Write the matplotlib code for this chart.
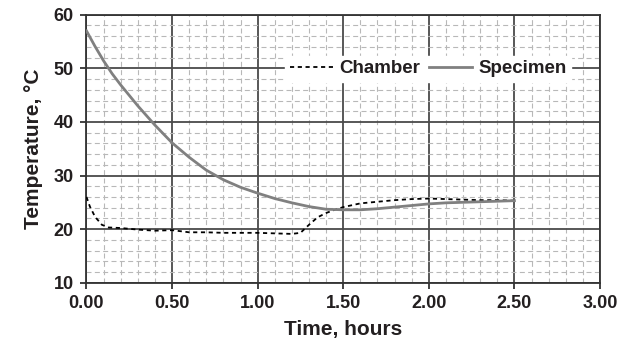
import numpy as np
import matplotlib
matplotlib.use("Agg")
import matplotlib.pyplot as plt
from matplotlib.ticker import MultipleLocator

plt.rcParams['font.family'] = ['Liberation Sans', 'DejaVu Sans']
plt.rcParams['font.weight'] = 'bold'

# ---------- DATA ----------
# specimen temperature (degC) vs time (hours)
t_specimen = [0.00, 0.05, 0.10, 0.15, 0.20, 0.30, 0.40, 0.50, 0.60, 0.70,
              0.80, 0.90, 1.00, 1.10, 1.20, 1.30, 1.40, 1.50, 1.60, 1.70,
              1.80, 1.90, 2.00, 2.10, 2.20, 2.30, 2.40, 2.50]
temp_specimen = [57.0, 54.1, 51.4, 49.0, 46.9, 43.0, 39.4, 36.1, 33.4, 31.0,
                 29.2, 27.8, 26.7, 25.7, 24.9, 24.2, 23.7, 23.6, 23.6, 23.8,
                 24.1, 24.4, 24.7, 24.9, 25.0, 25.1, 25.2, 25.3]

# chamber air temperature (degC) vs time (hours)
t_chamber = [0.00, 0.02, 0.05, 0.09, 0.13, 0.20, 0.30, 0.40, 0.50, 0.60,
             0.70, 0.80, 0.90, 1.00, 1.10, 1.20, 1.25, 1.30, 1.35, 1.40,
             1.45, 1.50, 1.60, 1.70, 1.80, 1.90, 2.00, 2.10, 2.20, 2.30,
             2.40, 2.50]
temp_chamber = [26.0, 24.2, 22.3, 20.8, 20.3, 20.2, 19.9, 19.7, 19.8, 19.4,
                19.4, 19.3, 19.3, 19.3, 19.2, 19.1, 19.3, 20.8, 22.2, 23.0,
                23.6, 24.1, 24.8, 25.1, 25.4, 25.6, 25.7, 25.6, 25.5, 25.4,
                25.4, 25.3]

# ---------- PLOT ----------
fig = plt.figure(figsize=(6.34, 3.52), dpi=100)
ax = fig.add_axes([0.1364, 0.197, 0.81, 0.761])

ax.plot(t_chamber, temp_chamber, color="black", lw=1.3, dashes=(2.3, 2.0),
        label="Chamber", zorder=3)
ax.plot(t_specimen, temp_specimen, color="#808080", lw=2.0,
        label="Specimen", zorder=4)

ax.set_xlim(0, 3)
ax.set_ylim(10, 60)
ax.xaxis.set_major_locator(MultipleLocator(0.5))
ax.xaxis.set_minor_locator(MultipleLocator(0.1))
ax.yaxis.set_major_locator(MultipleLocator(10))
ax.yaxis.set_minor_locator(MultipleLocator(2))
ax.set_xticklabels([f"{v:.2f}" for v in ax.get_xticks()])

ax.grid(which="major", color="#4a4a4a", lw=1.3, linestyle="-")
ax.grid(which="minor", color="#b8b8b8", lw=0.8, linestyle=(0, (4.5, 3)))
ax.set_axisbelow(True)

for s in ax.spines.values():
    s.set_color("#333333")
    s.set_linewidth(1.3)

ax.tick_params(which="major", direction="out", length=4, width=1.3,
               color="#333333", labelsize=13, labelcolor="#231f20", pad=5)
ax.tick_params(which="minor", length=0)

ax.set_xlabel("Time, hours", fontsize=15, fontweight="bold", labelpad=6,
              color="#231f20")
ax.set_ylabel("Temperature, °C", fontsize=15, fontweight="bold", labelpad=8,
              color="#231f20")

leg = ax.legend(loc="center", bbox_to_anchor=(0.665, 0.798), ncol=2,
                frameon=True, fancybox=False, fontsize=13.5,
                handlelength=2.3, handletextpad=0.35, columnspacing=0.45,
                borderpad=0.25, borderaxespad=0)
leg.get_frame().set_edgecolor("white")
leg.get_frame().set_facecolor("white")
leg.get_frame().set_alpha(1)
for txt in leg.get_texts():
    txt.set_color("#231f20")

fig.savefig("out.png", dpi=100)
